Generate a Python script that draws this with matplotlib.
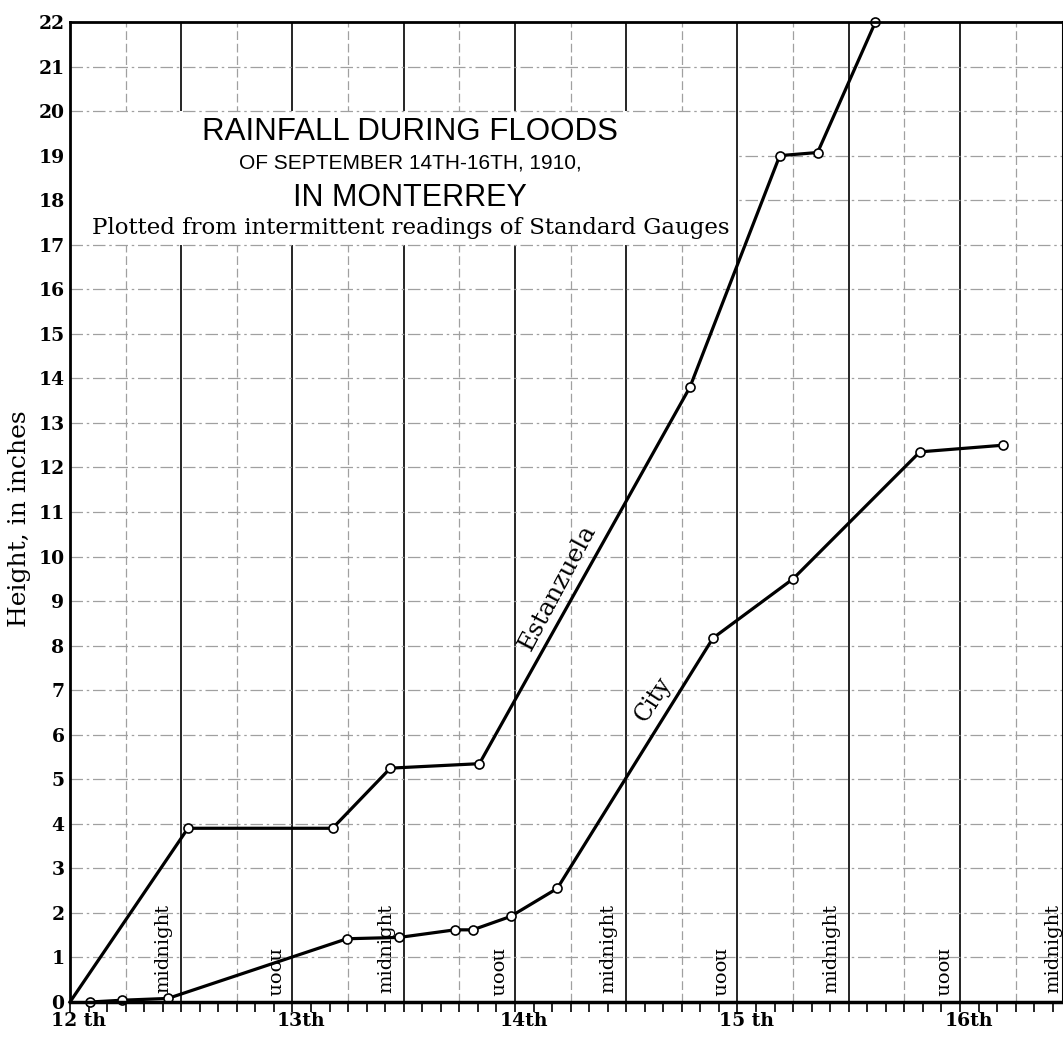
import numpy as np
import matplotlib
matplotlib.use("Agg")
import matplotlib.pyplot as plt
from matplotlib.patches import Rectangle

# readings (x = day of September, fractional; y = inches)
estanzuela_day = [12.0, 12.53, 13.18, 13.44, 13.84, 14.786, 15.19, 15.36, 15.62]
estanzuela_in = [0.0, 3.9, 3.9, 5.25, 5.35, 13.8, 19.0, 19.07, 22.0]

city_day = [12.09, 12.235, 12.44, 13.245, 13.48, 13.73, 13.81, 13.98, 14.19,
            14.89, 15.25, 15.82, 16.195]
city_in = [0.0, 0.04, 0.08, 1.42, 1.45, 1.62, 1.62, 1.92, 2.55,
           8.17, 9.5, 12.35, 12.5]

day_ticks = [12, 13, 14, 15, 16]
day_labels = ["12 th", "13th", "14th", "15 th", "16th"]
midnight_at = [12.5, 13.5, 14.5, 15.5, 16.5]
noon_at = [13.0, 14.0, 15.0, 16.0]

serif = "DejaVu Serif"
sans = "Liberation Sans"

fig = plt.figure(figsize=(10.63, 10.37), dpi=100)
ax = fig.add_axes([70 / 1063, 35 / 1037, 993 / 1063, 980 / 1037])
ax.set_xlim(12, 16.463)
ax.set_ylim(0, 22)

# grid: heavy half-day lines, light quarter-day lines, dashed inch lines
for x in np.arange(12.5, 16.51, 0.5):
    ax.axvline(x, color="black", lw=1.2, zorder=1)
for x in np.arange(12.25, 16.5, 0.5):
    ax.axvline(x, color="#a0a0a0", lw=0.9, ls=(0, (7, 3)), zorder=1)
for y in range(1, 22):
    ax.axhline(y, color="#a0a0a0", lw=0.9, ls=(0, (10, 3, 2, 3)),
               zorder=1.6 if y in (17, 20) else 1)

# blank panel for the title
ax.add_patch(Rectangle((12, 17), 2.995, 3, facecolor="white", edgecolor="none", zorder=1.5))
tx = 13.53
ax.text(tx, 19.53, "RAINFALL DURING FLOODS", family=sans, fontsize=22.5, ha="center", va="center", zorder=4)
ax.text(tx, 18.83, "OF SEPTEMBER 14TH-16TH, 1910,", family=sans, fontsize=15, ha="center", va="center", zorder=4)
ax.text(tx, 18.05, "IN MONTERREY", family=sans, fontsize=22, ha="center", va="center", zorder=4)
ax.text(tx, 17.37, "Plotted from intermittent readings of Standard Gauges", family=serif,
        fontsize=16.5, ha="center", va="center", zorder=4)

# series
ax.plot(estanzuela_day, estanzuela_in, color="black", lw=2.3, zorder=3, clip_on=False)
ax.plot(estanzuela_day[1:], estanzuela_in[1:], ls="none", marker="o", ms=6.5, mfc="white",
        mec="black", mew=1.2, zorder=4, clip_on=False)
ax.plot(city_day, city_in, color="black", lw=2.3, zorder=3, marker="o", ms=6.5, mfc="white",
        mec="black", mew=1.2, clip_on=False)

ax.text(14.19, 9.3, "Estanzuela", family=serif, fontsize=18, rotation=62,
        ha="center", va="center", zorder=4)
ax.text(14.62, 6.8, "City", family=serif, fontsize=17, rotation=57,
        ha="center", va="center", zorder=4)

# time-of-day labels along the bottom
for x in midnight_at:
    ax.text(x - 0.08, 0.2, "midnight", family=serif, fontsize=14, rotation=90,
            ha="center", va="bottom", zorder=4, clip_on=False)
for x in noon_at:
    ax.text(x - 0.08, 0.12, "noon", family=serif, fontsize=14, rotation=270,
            ha="center", va="bottom", zorder=4)

# axes styling
for side in ["left", "bottom", "top", "right"]:
    ax.spines[side].set_color("black")
    ax.spines[side].set_zorder(5)
ax.spines["left"].set_linewidth(2.0)
ax.spines["bottom"].set_linewidth(2.5)
ax.spines["top"].set_linewidth(2.0)
ax.spines["right"].set_linewidth(1.5)

ax.set_xticks(np.arange(12, 16.47, 1 / 12))
ax.tick_params(axis="x", direction="out", length=7, width=1.2, labelbottom=False)
ax.set_yticks(range(0, 23))
ax.set_yticklabels([str(v) for v in range(0, 23)], family=serif, fontweight="bold", fontsize=13.5)
ax.tick_params(axis="y", length=0, pad=4)

for x, lab in zip(day_ticks, day_labels):
    ax.text(x + 0.04, -0.42, lab, family=serif, fontweight="bold", fontsize=13.5,
            ha="center", va="center", clip_on=False)

fig.text(20 / 1063, 0.5, "Height, in inches", family=serif, fontsize=18,
         rotation=90, ha="center", va="center")

fig.savefig("out.png", dpi=100)
